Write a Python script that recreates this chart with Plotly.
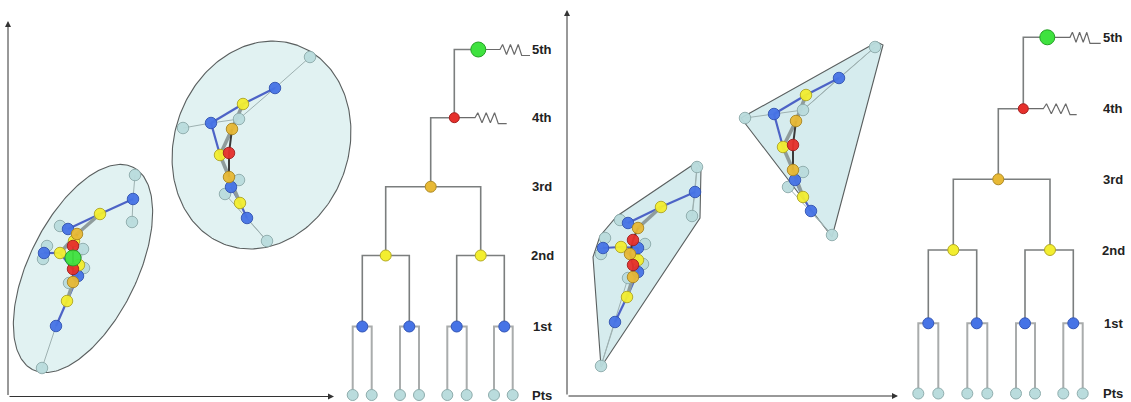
import numpy as np
import plotly.graph_objects as go

W, H = 1131, 402

# ---------------- Scatter panels: node positions ----------------
# Cluster A (left panel, lower ellipse)
A_leaf = [(135, 175), (132, 222), (60, 226), (47, 246), (43, 259), (83, 249), (84, 268), (69, 283), (42, 368)]
A_first = [(133, 199), (68, 229), (44, 253), (78, 276), (56, 326)]
A_second = [(100, 214), (60, 253), (79, 265), (67, 301), (74, 241)]
A_third = [(77, 234), (73, 282)]
A_fourth = [(73, 246), (73, 269)]
A_fifth = [(73, 258)]
A_thin = [("L", 0, "1", 0), ("L", 1, "1", 0), ("L", 2, "1", 1), ("L", 3, "1", 2), ("L", 4, "1", 2),
          ("L", 5, "1", 3), ("L", 6, "1", 3), ("L", 7, "1", 3), ("L", 8, "1", 4)]
A_blue = [("1", 0, "2", 0), ("2", 0, "1", 1), ("1", 2, "2", 1), ("2", 1, "1", 3), ("1", 4, "2", 3), ("2", 3, "1", 3)]
A_thick = [("2", 0, "3", 0), ("2", 4, "3", 0), ("2", 1, "3", 0), ("2", 2, "3", 1), ("2", 3, "3", 1)]
A_dark = [("3", 0, "4", 0), ("4", 0, "5", 0), ("5", 0, "4", 1), ("4", 1, "3", 1)]

# Cluster B (left panel, upper ellipse)
B_leaf = [(310, 57), (183, 128), (239, 119), (239, 180), (225, 194), (267, 241)]
B_first = [(275, 88), (211, 123), (231, 187), (247, 218)]
B_second = [(243, 104), (220, 155), (240, 203)]
B_third = [(232, 129), (229, 177)]
B_fourth = [(229, 153)]
B_fifth = []
B_thin = [("L", 0, "1", 0), ("1", 0, "L", 2), ("1", 1, "L", 1), ("1", 1, "L", 2), ("1", 2, "L", 3),
          ("1", 2, "L", 4), ("1", 3, "L", 5), ("L", 4, "L", 5)]
B_blue = [("1", 0, "2", 0), ("2", 0, "1", 1), ("1", 1, "2", 1), ("2", 2, "1", 3), ("1", 2, "2", 2)]
B_thick = [("2", 0, "3", 0), ("2", 1, "3", 1), ("3", 1, "2", 2), ("2", 1, "3", 0)]
B_dark = [("3", 0, "4", 0), ("4", 0, "3", 1)]

# Cluster C (right panel, lower hull)
C_leaf = [(697, 167), (692, 216), (620, 220), (605, 238), (601, 254), (645, 244), (643, 264), (628, 278), (601, 366)]
C_first = [(695, 192), (628, 223), (603, 248), (638, 248), (638, 272), (615, 322)]
C_second = [(661, 207), (621, 247), (638, 260), (627, 297)]
C_third = [(638, 228), (630, 254), (633, 277)]
C_fourth = [(633, 240), (633, 265)]
C_fifth = []
C_thin = [("L", 0, "1", 0), ("L", 1, "1", 0), ("L", 2, "1", 1), ("L", 3, "1", 2), ("L", 4, "1", 2),
          ("L", 5, "1", 3), ("L", 6, "1", 4), ("L", 7, "1", 4), ("L", 8, "1", 5), ("L", 8, "L", 7),
          ("L", 0, "L", 1)]
C_blue = [("1", 0, "2", 0), ("2", 0, "1", 1), ("1", 2, "2", 1), ("2", 1, "1", 3), ("1", 3, "2", 2),
          ("2", 2, "1", 4), ("1", 5, "2", 3), ("2", 3, "1", 4)]
C_thick = [("2", 0, "3", 0), ("2", 1, "3", 1), ("2", 2, "3", 1), ("2", 3, "3", 2)]
C_dark = [("3", 0, "4", 0), ("4", 0, "3", 1), ("3", 1, "4", 1), ("4", 1, "3", 2)]

# Cluster D (right panel, upper hull)
D_leaf = [(875, 47), (745, 118), (803, 110), (803, 172), (788, 187), (832, 235)]
D_first = [(839, 78), (774, 114), (795, 180), (811, 211)]
D_second = [(806, 95), (783, 147), (803, 197)]
D_third = [(796, 121), (793, 170)]
D_fourth = [(793, 145)]
D_fifth = []
D_thin = [("L", 0, "1", 0), ("1", 0, "L", 2), ("1", 1, "L", 1), ("1", 1, "L", 2), ("1", 2, "L", 3),
          ("1", 2, "L", 4), ("1", 3, "L", 5), ("L", 4, "L", 5), ("L", 0, "L", 2)]
D_blue = [("1", 0, "2", 0), ("2", 0, "1", 1), ("1", 1, "2", 1), ("2", 2, "1", 3), ("1", 2, "2", 2)]
D_thick = [("2", 0, "3", 0), ("2", 1, "3", 1), ("3", 1, "2", 2), ("2", 1, "3", 0)]
D_dark = [("3", 0, "4", 0), ("4", 0, "3", 1)]

# Enclosing regions
ellipse_A = dict(cx=83, cy=268.5, a=113, b=54, angle=63.7)
ellipse_B = dict(cx=261.5, cy=145, a=106, b=87, angle=70)
hull_C = [(697, 162), (701, 168), (700, 218), (601, 367), (593, 257), (600, 236), (617, 216)]
hull_D = [(877, 42), (883, 45), (832, 237), (741, 118)]

# ---------------- Dendrograms ----------------
level_names = ["Pts", "1st", "2nd", "3rd", "4th", "5th"]
L_levels_y = [395, 326.5, 255.5, 186.7, 117.7, 49.5]
L_pts_x = [352.7, 371.7, 400, 419, 447.3, 466.7, 494, 512.7]
L_n1_x = [362.3, 409.3, 456.7, 504.3]
L_n2_x = [385.7, 480.7]
L_n3_x = [430.7]
L_n4_x = [454.3]
L_n5_x = [478.3]
L_label_x = 542

R_levels_y = [393.5, 323.3, 250, 179.3, 108.7, 37.3]
R_pts_x = [918.3, 938.3, 967.3, 987.3, 1016, 1035, 1063.3, 1082.7]
R_n1_x = [928.3, 976.7, 1025, 1073.3]
R_n2_x = [953.3, 1050]
R_n3_x = [998.3]
R_n4_x = [1023.3]
R_n5_x = [1047.3]
R_label_x = 1113

FILL = {"L": "#badcdd", "1": "#4673e6", "2": "#f3ee2f", "3": "#e8b935", "4": "#e6302c", "5": "#3fe23f"}
EDGE = {"L": "#8fadad", "1": "#3355b5", "2": "#b3a925", "3": "#ad8922", "4": "#a52020", "5": "#24a024"}

fig = go.Figure()


def add_line(xs, ys, color, width, fill=None, fillcolor=None):
    fig.add_trace(go.Scatter(x=xs, y=ys, mode="lines", line=dict(color=color, width=width),
                             fill=fill, fillcolor=fillcolor, hoverinfo="skip", showlegend=False))


def ellipse_outline(e, n=240):
    t = np.linspace(0, 2 * np.pi, n)
    p = np.radians(e["angle"])
    xs = e["cx"] + e["a"] * np.cos(t) * np.cos(p) - e["b"] * np.sin(t) * np.sin(p)
    ys = e["cy"] - e["a"] * np.cos(t) * np.sin(p) - e["b"] * np.sin(t) * np.cos(p)
    return xs, ys


for e in (ellipse_A, ellipse_B):
    xs, ys = ellipse_outline(e)
    add_line(xs, ys, "#5a5f5f", 1.1, fill="toself", fillcolor="#e1f2f2")
for hull in (hull_C, hull_D):
    xs = [p[0] for p in hull] + [hull[0][0]]
    ys = [p[1] for p in hull] + [hull[0][1]]
    add_line(xs, ys, "#5a5f5f", 1.1, fill="toself", fillcolor="#d6ecee")


def draw_cluster(levels, thin, blue, thick, dark, big_green=16):
    def seg(edges):
        xs, ys = [], []
        for l1, i1, l2, i2 in edges:
            p1, p2 = levels[l1][i1], levels[l2][i2]
            xs += [p1[0], p2[0], None]
            ys += [p1[1], p2[1], None]
        return xs, ys
    for edges, col, w in ((thin, "#9eb1b1", 1.0), (blue, "#4d63c6", 2.2), (thick, "#8f9c9c", 3.6), (dark, "#3a3a3a", 2.0)):
        xs, ys = seg(edges)
        add_line(xs, ys, col, w)
    for lv in ("L", "1", "2", "3", "4", "5"):
        pts = levels[lv]
        if not pts:
            continue
        size = big_green if lv == "5" else 11.5
        fig.add_trace(go.Scatter(x=[p[0] for p in pts], y=[p[1] for p in pts], mode="markers",
                                 marker=dict(size=size, color=FILL[lv], line=dict(color=EDGE[lv], width=1),
                                             opacity=0.95),
                                 hoverinfo="skip", showlegend=False))


draw_cluster({"L": A_leaf, "1": A_first, "2": A_second, "3": A_third, "4": A_fourth, "5": A_fifth},
             A_thin, A_blue, A_thick, A_dark)
draw_cluster({"L": B_leaf, "1": B_first, "2": B_second, "3": B_third, "4": B_fourth, "5": B_fifth},
             B_thin, B_blue, B_thick, B_dark)
draw_cluster({"L": C_leaf, "1": C_first, "2": C_second, "3": C_third, "4": C_fourth, "5": C_fifth},
             C_thin, C_blue, C_thick, C_dark)
draw_cluster({"L": D_leaf, "1": D_first, "2": D_second, "3": D_third, "4": D_fourth, "5": D_fifth},
             D_thin, D_blue, D_thick, D_dark)


def zigzag(x0, y0, lead, width, tail):
    fr = [0, 0.12, 0.3, 0.48, 0.66, 0.84, 1.0]
    dy = [0, -5, 5, -5, 5, -5, 6]
    xs = [x0, x0 + lead] + [x0 + lead + f * width for f in fr[1:]] + [x0 + lead + width + tail]
    ys = [y0, y0] + [y0 + d for d in dy[1:]] + [y0 + 6]
    return xs, ys


def draw_dendro(ly, px, n1, n2, n3, n4, n5, label_x, zig4, zig5):
    # leaf brackets (light gray)
    xs, ys = [], []
    for i in range(4):
        a, b = px[2 * i], px[2 * i + 1]
        xs += [a, a, b, b, None]
        ys += [ly[0], ly[1], ly[1], ly[0], None]
    add_line(xs, ys, "#a9acac", 2.0)
    # upper brackets (darker gray)
    xs, ys = [], []
    for j in range(2):
        a, b = n1[2 * j], n1[2 * j + 1]
        xs += [a, a, b, b, None]
        ys += [ly[1], ly[2], ly[2], ly[1], None]
    xs += [n2[0], n2[0], n2[1], n2[1], None]
    ys += [ly[2], ly[3], ly[3], ly[2], None]
    xs += [n3[0], n3[0], n4[0], None]
    ys += [ly[3], ly[4], ly[4], None]
    xs += [n4[0], n4[0], n5[0], None]
    ys += [ly[4], ly[5], ly[5], None]
    add_line(xs, ys, "#7b7e7e", 1.6)
    # noise zigzags
    for (x0, y0, lead, wdt, tail) in ((n4[0], ly[4]) + zig4, (n5[0], ly[5]) + zig5):
        zx, zy = zigzag(x0, y0, lead, wdt, tail)
        add_line(zx, zy, "#6a6a6a", 1.2)
    # nodes
    specs = [("L", px, ly[0], 11), ("1", n1, ly[1], 11), ("2", n2, ly[2], 11),
             ("3", n3, ly[3], 11), ("4", n4, ly[4], 10), ("5", n5, ly[5], 15)]
    for lv, xsn, y, s in specs:
        fig.add_trace(go.Scatter(x=xsn, y=[y] * len(xsn), mode="markers",
                                 marker=dict(size=s, color=FILL[lv], line=dict(color=EDGE[lv], width=1)),
                                 hoverinfo="skip", showlegend=False))
    for name, y in zip(level_names, ly):
        fig.add_annotation(x=label_x, y=y, text="<b>%s</b>" % name, showarrow=False,
                           font=dict(family="Liberation Sans, Arial", size=13, color="#222222"),
                           xanchor="center", yanchor="middle")


draw_dendro(L_levels_y, L_pts_x, L_n1_x, L_n2_x, L_n3_x, L_n4_x, L_n5_x, L_label_x,
            (20.7, 23.3, 8.4), (21.7, 21.7, 8.3))
draw_dendro(R_levels_y, R_pts_x, R_n1_x, R_n2_x, R_n3_x, R_n4_x, R_n5_x, R_label_x,
            (20, 26.7, 6.7), (22.7, 20, 10.7))

# scatter panel axes with arrowheads
for (x0, y0, x1, y1) in ((8, 396.5, 8, 21), (8, 396.5, 334, 396.5), (567, 396, 567, 10), (567, 396, 898, 396)):
    fig.add_annotation(x=x1, y=y1, ax=x0, ay=y0, xref="x", yref="y", axref="x", ayref="y",
                       text="", showarrow=True, arrowhead=2, arrowsize=1.2, arrowwidth=1,
                       arrowcolor="#333333")

fig.update_layout(width=W, height=H, autosize=False, margin=dict(l=0, r=0, t=0, b=0),
                  paper_bgcolor="white", plot_bgcolor="white", showlegend=False,
                  xaxis=dict(range=[0, W], visible=False, fixedrange=True),
                  yaxis=dict(range=[H, 0], visible=False, fixedrange=True))
fig.write_html("out.html", config={"displayModeBar": False, "staticPlot": True},
               post_script="document.body.style.margin='0px';document.body.style.overflow='hidden';")
